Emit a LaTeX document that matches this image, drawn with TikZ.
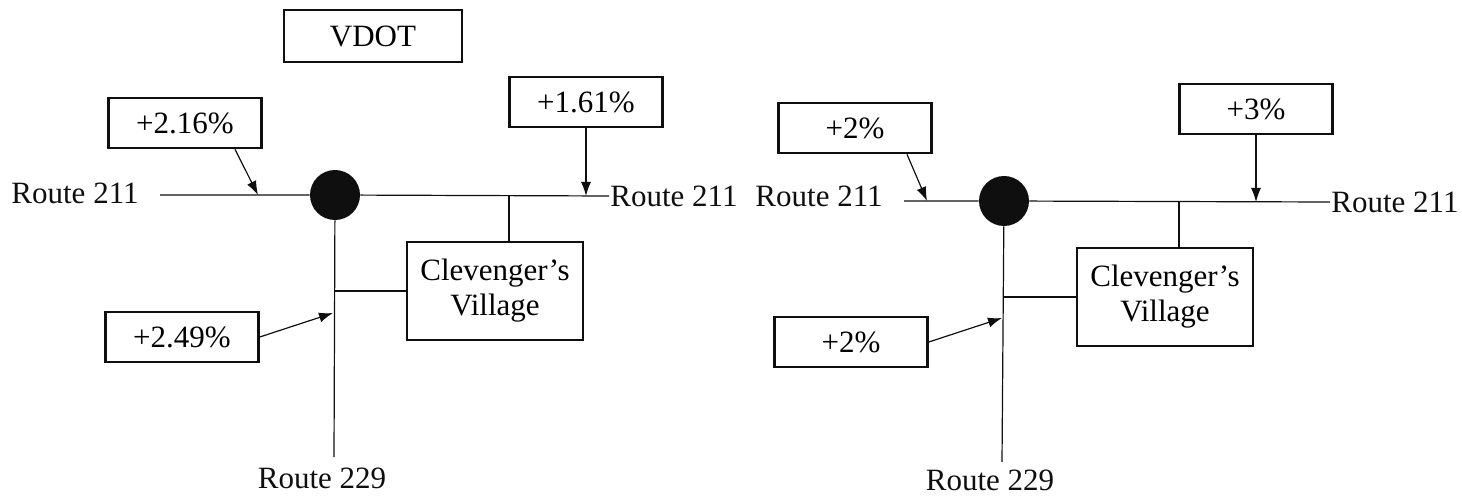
\documentclass[tikz,border=0pt]{standalone}
\usepackage{fontspec}
\setmainfont{Liberation Serif}
\usepackage{tikz}
\usetikzlibrary{positioning, arrows.meta}
\definecolor{rdInk}{RGB}{15, 15, 15}

\begin{document}
\begin{tikzpicture}[x=0.5pt, y=-0.5pt,
    font=\fontsize{15.5}{17.5}\selectfont,
    pbox/.style={draw=rdInk, line width=1.3pt, inner sep=0pt, minimum width=76.5pt, minimum height=25pt},
    vbox/.style={draw=rdInk, line width=1.3pt, inner sep=0pt, minimum width=88pt, minimum height=49pt, align=center},
    road/.style={draw=rdInk, line width=0.6pt},
    grade/.style={road, -{Latex[length=7pt, width=5pt]}},
    junction/.style={circle, fill=rdInk, inner sep=0pt, minimum size=25pt},
    rlabel/.style={text=rdInk, inner sep=0.5pt}]
  \useasboundingbox (0,0) rectangle (1462,497);

  % Left panel (VDOT)
  \node[pbox, minimum width=89pt, minimum height=26pt] (vdot) at (373,36) {VDOT};
  \node[pbox] (gA1) at (185,123) {+2.16\%};
  \node[pbox] (gA2) at (586,102) {+1.61\%};
  \node[pbox] (gA3) at (182,337) {+2.49\%};
  \node[vbox] (cvA) at (495,291) {Clevenger’s\\Village};
  \node[junction] (jA) at (335,195) {};

  \node[rlabel, anchor=east] (rA1) at (140,193) {Route 211};
  \node[rlabel, anchor=west] (rA2) at (609,196) {Route 211};
  \node[rlabel] (rA3) at (322,478) {Route 229};

  \coordinate (eA) at (160,195);
  \coordinate (sA) at (334,457);
  \coordinate (bA) at (509,196);
  \coordinate (tA1) at (258,195);
  \coordinate (tA2) at (586,196);
  \coordinate (tA3) at (333,313);

  \draw[road] (eA) -- (jA) -- (rA2.west);
  \draw[road] (jA) -- (sA);
  \draw[road] (bA) -- (bA |- cvA.north);
  \draw[road] (cvA.west) -- (cvA.west -| jA);
  \draw[grade] ([xshift=25pt]gA1.south) -- (tA1);
  \draw[grade] (gA2.south) -- (tA2);
  \draw[grade] (gA3.east) -- (tA3);

  % Right panel
  \node[pbox] (gB1) at (855,128) {+2\%};
  \node[pbox] (gB2) at (1256,109) {+3\%};
  \node[pbox] (gB3) at (851,342) {+2\%};
  \node[vbox] (cvB) at (1165,297) {Clevenger’s\\Village};
  \node[junction] (jB) at (1004,201) {};

  \node[rlabel, anchor=east] (rB1) at (884,196) {Route 211};
  \node[rlabel, anchor=west] (rB2) at (1330,202) {Route 211};
  \node[rlabel] (rB3) at (990,480) {Route 229};

  \coordinate (eB) at (904,201);
  \coordinate (sB) at (1002,462);
  \coordinate (bB) at (1179,202);
  \coordinate (tB1) at (927,201);
  \coordinate (tB2) at (1256,202);
  \coordinate (tB3) at (1002,318);

  \draw[road] (eB) -- (jB) -- (rB2.west);
  \draw[road] (jB) -- (sB);
  \draw[road] (bB) -- (bB |- cvB.north);
  \draw[road] (cvB.west) -- (cvB.west -| jB);
  \draw[grade] ([xshift=26pt]gB1.south) -- (tB1);
  \draw[grade] (gB2.south) -- (tB2);
  \draw[grade] (gB3.east) -- (tB3);
\end{tikzpicture}
\end{document}
